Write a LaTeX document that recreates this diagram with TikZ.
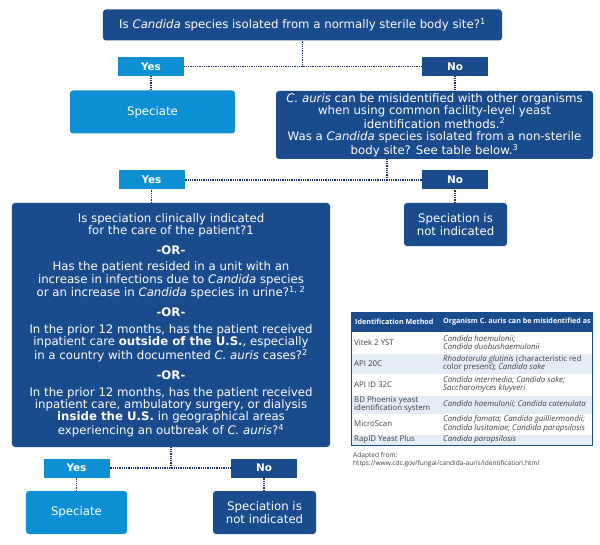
\documentclass[tikz,border=0pt]{standalone}
\usepackage{fontspec}
\setmainfont{DejaVu Sans}
\newfontfamily\tablefont{Open Sans}
\definecolor{darkblue}{HTML}{1A4B8C}
\definecolor{lightblue}{HTML}{0D8FD3}
\definecolor{dotblue}{HTML}{1B2F66}
\definecolor{rowblue}{HTML}{E4ECF7}
\tikzset{
  darkbox/.style={rectangle, rounded corners=3pt, fill=darkblue, text=white, inner sep=0pt,
    align=center, font=\fontsize{11.8}{12.3}\selectfont},
  lightbox/.style={darkbox, fill=lightblue},
  answer/.style={rectangle, inner sep=0pt, minimum width=66bp, minimum height=19bp,
    text=white, font=\fontsize{10.5}{12}\selectfont\bfseries},
  yesbox/.style={answer, fill=lightblue},
  nobox/.style={answer, fill=darkblue},
  link/.style={draw=dotblue, line width=1.4pt, dash pattern=on 0.9pt off 0.9pt},
  cell/.style={anchor=west, inner sep=0pt, align=left, text=black!75,
    font=\tablefont\fontsize{7.9}{8.8}\selectfont},
  headcell/.style={cell, text=white, font=\tablefont\fontsize{7.2}{8}\selectfont\bfseries}
}
\begin{document}
\begin{tikzpicture}[x=1bp,y=-1bp]
\useasboundingbox (0,0) rectangle (600,545);
% first question
\node [darkbox, minimum width=399bp, minimum height=31bp] (q1) at (302.5,25)
  {Is \textit{Candida} species isolated from a normally sterile body site?\textsuperscript{1}};
\node [yesbox] (yes1) at (151,66.5) {Yes};
\node [nobox] (no1) at (455,66.5) {No};
\node [lightbox, minimum width=165bp, minimum height=43bp] (spec1) at (152.5,112) {Speciate};
\node [darkbox, minimum width=317bp, minimum height=68bp] (q2) at (434.5,125)
  {\textit{C. auris} can be misidentified with other organisms\\
   when using common facility-level yeast\\
   identification methods.\textsuperscript{2}\\
   Was a \textit{Candida} species isolated from a non-sterile\\
   body site? See table below.\textsuperscript{3}};
% second question
\node [yesbox] (yes2) at (151.5,180) {Yes};
\node [nobox] (no2) at (455,180) {No};
\node [darkbox, minimum width=103bp, minimum height=43bp] (notind1) at (455.5,224.5)
  {Speciation is\\not indicated};
\node [darkbox, minimum width=318bp, minimum height=244bp] (q3) at (171,325)
  {Is speciation clinically indicated\\
   for the care of the patient?1\\[7.5pt]
   \textbf{-OR-}\\[4.5pt]
   Has the patient resided in a unit with an\\
   increase in infections due to \textit{Candida} species\\
   or an increase in \textit{Candida} species in urine?\textsuperscript{1, 2}\\[7.5pt]
   \textbf{-OR-}\\[4.5pt]
   In the prior 12 months, has the patient received\\
   inpatient care \textbf{outside of the U.S.}, especially\\
   in a country with documented \textit{C. auris} cases?\textsuperscript{2}\\[7.5pt]
   \textbf{-OR-}\\[4.5pt]
   In the prior 12 months, has the patient received\\
   inpatient care, ambulatory surgery, or dialysis\\
   \textbf{inside the U.S.} in geographical areas\\
   experiencing an outbreak of \textit{C. auris}?\textsuperscript{4}};
% third question
\node [yesbox] (yes3) at (76.5,468) {Yes};
\node [nobox] (no3) at (264,468) {No};
\node [lightbox, minimum width=101bp, minimum height=43bp] (spec3) at (76.5,512.5) {Speciate};
\node [darkbox, minimum width=103bp, minimum height=43bp] (notind3) at (264.5,512.5)
  {Speciation is\\not indicated};
% connectors
\draw [link] (q1.south) -- (q1.south |- yes1.east);
\draw [link] (yes1.east) -- (no1.west);
\draw [link] (yes1.south) -- (yes1.south |- spec1.north);
\draw [link] (no1.south) -- (no1.south |- q2.north);
\coordinate (j2) at (387,180);
\draw [link] (j2 |- q2.south) -- (j2);
\draw [link] (yes2.east) -- (no2.west);
\draw [link] (no2.south) -- (no2.south |- notind1.north);
\draw [link] (yes2.south) -- (yes2.south |- q3.north);
\draw [link] (q3.south) -- (q3.south |- yes3.east);
\draw [link] (yes3.east) -- (no3.west);
\draw [link] (yes3.south) -- (yes3.south |- spec3.north);
\draw [link] (no3.south) -- (no3.south |- notind3.north);
% table
\fill [darkblue] (351,312) rectangle (592,332);
\fill [rowblue] (351,353) rectangle (592,374);
\fill [rowblue] (351,395) rectangle (592,414);
\fill [rowblue] (351,434) rectangle (592,445);
\draw [white, line width=0.4pt] (351,353) -- (592,353);
\draw [white, line width=0.4pt] (351,374) -- (592,374);
\draw [white, line width=0.4pt] (351,395) -- (592,395);
\draw [white, line width=0.4pt] (351,414) -- (592,414);
\draw [white, line width=0.4pt] (351,434) -- (592,434);
\draw [darkblue, line width=0.8pt] (351,312) rectangle (592,445);
\node [headcell] (h1) at (355,322) {Identification Method};
\node [headcell] (h2) at (443,322) {Organism C. auris can be misidentified as};
\node [cell] (m1) at (354,342.5) {Vitek 2 YST};
\node [cell] (o1) at (443,342.5) {\textit{Candida haemulonii;}\\\textit{Candida duobushaemulonii}};
\node [cell] (m2) at (354,363.5) {API 20C};
\node [cell] (o2) at (443,363.5) {\textit{Rhodotorula glutinis} (characteristic red\\color present); \textit{Candida sake}};
\node [cell] (m3) at (354,384.5) {API ID 32C};
\node [cell] (o3) at (443,384.5) {\textit{Candida intermedia; Candida sake;}\\\textit{Saccharomyces kluyveri}};
\node [cell] (m4) at (354,404.5) {BD Phoenix yeast\\identification system};
\node [cell] (o4) at (443,404.5) {\textit{Candida haemulonii; Candida catenulata}};
\node [cell] (m5) at (354,424) {MicroScan};
\node [cell] (o5) at (443,424) {\textit{Candida famata; Candida guilliermondii;}\\\textit{Candida lusitaniae; Candida parapsilosis}};
\node [cell] (m6) at (354,439.5) {RapID Yeast Plus};
\node [cell] (o6) at (443,439.5) {\textit{Candida parapsilosis}};
\node [cell, font=\tablefont\fontsize{6.6}{7.6}\selectfont] (src) at (353,460)
  {Adapted from:\\https://www.cdc.gov/fungal/candida-auris/identification.html};
\end{tikzpicture}
\end{document}
